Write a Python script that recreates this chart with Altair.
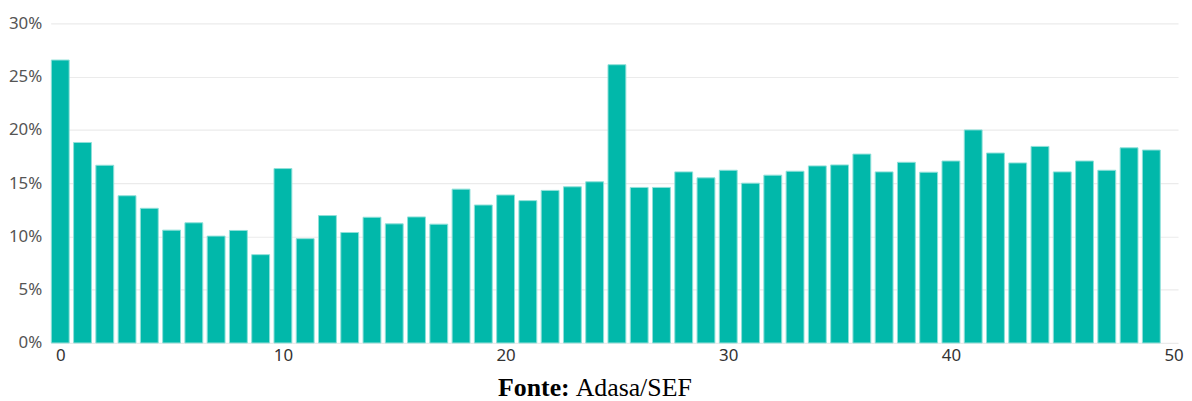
import altair as alt
import pandas as pd

x_vals = list(range(50))
shares = [
    26.56, 18.82, 16.68, 13.82, 12.64, 10.59, 11.28, 10.03, 10.56, 8.29,
    16.37, 9.79, 11.96, 10.37, 11.80, 11.18, 11.83, 11.15, 14.44, 12.95,
    13.89, 13.36, 14.32, 14.66, 15.13, 26.12, 14.60, 14.60, 16.06, 15.50,
    16.21, 15.00, 15.75, 16.12, 16.62, 16.71, 17.73, 16.06, 16.96, 16.03,
    17.08, 20.00, 17.83, 16.90, 18.45, 16.06, 17.08, 16.21, 18.32, 18.11,
]
x_ticks = [0, 10, 20, 30, 40, 50]
y_ticks = [0, 0.05, 0.10, 0.15, 0.20, 0.25, 0.30]
source_bold = "Fonte:"
source_rest = "Adasa/SEF"

df = pd.DataFrame({"x": x_vals, "share": [s / 100 for s in shares]})

W, H = 1136, 322

bars = alt.Chart(df).mark_bar(
    size=18, color="#01B8AA", stroke="#8FE0D9", strokeWidth=1
).encode(
    x=alt.X("x:Q", scale=alt.Scale(domain=[-0.43, 50.2], nice=False, zero=False, padding=0),
            axis=alt.Axis(values=x_ticks, title=None, grid=False, ticks=False, domain=False,
                          labelFontSize=17, labelColor="#333333", labelPadding=5,
                          labelFont="Noto Sans")),
    y=alt.Y("share:Q", scale=alt.Scale(domain=[0, 0.30], nice=False, padding=0),
            axis=alt.Axis(values=y_ticks, format=".0%", title=None, ticks=False, domain=False,
                          gridColor="#EBEBEB", gridWidth=1.2, labelFontSize=17,
                          labelColor="#555555", labelPadding=9, labelFont="Noto Sans")),
)

t1 = alt.Chart(pd.DataFrame({"t": [source_bold]})).mark_text(
    align="right", baseline="alphabetic", font="Liberation Serif", fontSize=26,
    fontWeight="bold", color="#000000"
).encode(text="t:N", x=alt.value(523), y=alt.value(375))

t2 = alt.Chart(pd.DataFrame({"t": [source_rest]})).mark_text(
    align="left", baseline="alphabetic", font="Liberation Serif", fontSize=26,
    color="#000000"
).encode(text="t:N", x=alt.value(529), y=alt.value(375))

chart = alt.layer(bars, t1, t2).properties(
    width=W, height=H,
    padding={"top": 5, "left": 0, "right": 0, "bottom": 0},
).configure_view(stroke=None)

chart.save("out.html", embed_options={"renderer": "svg", "actions": False})
